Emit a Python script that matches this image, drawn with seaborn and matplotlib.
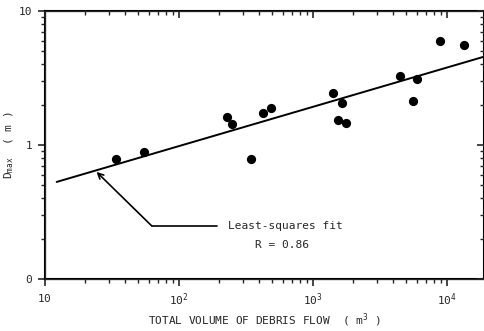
import numpy as np
import pandas as pd
import matplotlib
matplotlib.use("Agg")
import matplotlib.pyplot as plt
import matplotlib.ticker as mticker
import seaborn as sns

# ---- data ----
volume_m3 = [33.9, 54.8, 228, 249, 344, 423, 486, 1409, 1644, 1537, 1763,
             4457, 5970, 5572, 8870, 13400]
dmax_m = [0.79, 0.89, 1.62, 1.44, 0.79, 1.73, 1.89, 2.44, 2.06, 1.54, 1.46,
          3.27, 3.11, 2.13, 5.97, 5.57]
fit_intercept = -0.595   # log10(Dmax) = a + b*log10(V)
fit_slope = 0.293
fit_x_range = [12.3, 19000]
r_value = 0.86

x_ticks = [10, 100, 1000, 10000]
x_ticklabels = [r"$10$", r"$10^2$", r"$10^3$", r"$10^4$"]
y_ticks = [0.1, 1, 10]
y_ticklabels = ["0", "1", "10"]
x_lim = [10, 19000]
y_lim = [0.1, 10]

sns.set_style("ticks")
MONO = "DejaVu Sans Mono"
plt.rcParams["font.family"] = [MONO]
plt.rcParams["mathtext.fontset"] = "custom"
plt.rcParams["mathtext.rm"] = MONO
plt.rcParams["mathtext.it"] = MONO
plt.rcParams["mathtext.bf"] = MONO
plt.rcParams["mathtext.default"] = "rm"

df = pd.DataFrame({"V": volume_m3, "D": dmax_m})
fx = np.array(fit_x_range, dtype=float)
fit_df = pd.DataFrame({"V": fx, "D": 10 ** (fit_intercept + fit_slope * np.log10(fx))})

fig = plt.figure(figsize=(4.85, 3.31), dpi=100)
ax = fig.add_axes([0.092, 0.157, 0.906, 0.81])
ax.set_xscale("log")
ax.set_yscale("log")

sns.lineplot(data=fit_df, x="V", y="D", ax=ax, color="black", linewidth=1.4)
sns.scatterplot(data=df, x="V", y="D", ax=ax, color="black", s=44,
                edgecolor="black", linewidth=0, zorder=3)

ax.set_xlim(x_lim)
ax.set_ylim(y_lim)
ax.set_xticks(x_ticks)
ax.set_xticklabels(x_ticklabels, fontsize=8)
ax.set_yticks(y_ticks)
ax.set_yticklabels(y_ticklabels, fontsize=8)
ax.xaxis.set_minor_locator(mticker.LogLocator(base=10, subs=np.arange(2, 10)))
ax.yaxis.set_minor_locator(mticker.LogLocator(base=10, subs=np.arange(2, 10)))
ax.xaxis.set_minor_formatter(mticker.NullFormatter())
ax.yaxis.set_minor_formatter(mticker.NullFormatter())
ax.tick_params(which="major", direction="out", length=5, width=1.2)
ax.tick_params(axis="x", which="major", pad=4)
ax.tick_params(axis="y", which="major", pad=4)
ax.tick_params(which="minor", direction="out", length=3, width=1.0)
for s in ax.spines.values():
    s.set_linewidth(1.5)
    s.set_color("black")

# inward ticks on top and right
axt = ax.twiny()
axt.set_xscale("log")
axt.set_xlim(x_lim)
axt.xaxis.set_minor_locator(mticker.LogLocator(base=10, subs=np.arange(2, 10)))
axt.tick_params(which="both", direction="in", labeltop=False)
axt.tick_params(which="major", length=5, width=1.2)
axt.tick_params(which="minor", length=3, width=1.0)
axr = ax.twinx()
axr.set_yscale("log")
axr.set_ylim(y_lim)
axr.yaxis.set_minor_locator(mticker.LogLocator(base=10, subs=np.arange(2, 10)))
axr.tick_params(which="both", direction="in", labelright=False)
axr.tick_params(which="major", length=5, width=1.2)
axr.tick_params(which="minor", length=3, width=1.0)

ax.set_xlabel(r"TOTAL VOLUME OF DEBRIS FLOW  ( $\mathrm{m}^3$ )", fontsize=8, labelpad=2)
ax.set_ylabel(r"$\mathrm{D_{max}}$  ( m )", fontsize=8)
ax.yaxis.set_label_coords(-0.065, 0.5)

# annotation with a bent leader line
ax.annotate("", xy=(24.4, 0.63), xytext=(63, 0.249),
            arrowprops=dict(arrowstyle="->", color="black", lw=1.2,
                            shrinkA=0, shrinkB=0))
ax.plot([63, 192], [0.249, 0.249], color="black", lw=1.2)
ax.text(232, 0.249, "Least-squares fit", fontsize=8, va="center", ha="left")
ax.text(587, 0.18, f"R = {r_value:.2f}", fontsize=8, va="center", ha="center")

fig.savefig("out.png", dpi=100)
